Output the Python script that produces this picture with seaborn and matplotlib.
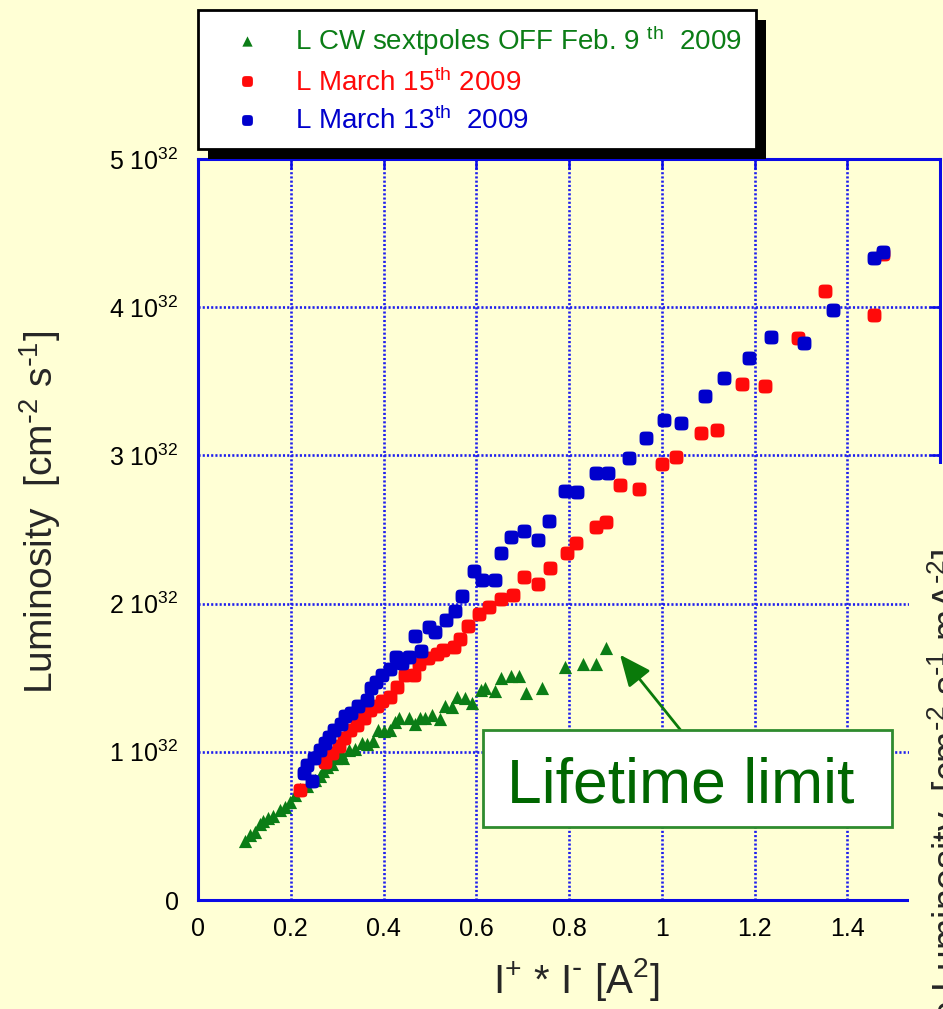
import numpy as np
import matplotlib
matplotlib.use("Agg")
import matplotlib.pyplot as plt
import seaborn as sns
from matplotlib.patches import Rectangle

# Luminosity vs. product of beam currents, luminosity in units of 1e32 cm^-2 s^-1
feb09_current = [0.101, 0.112, 0.123, 0.134, 0.141, 0.152, 0.162, 0.177, 0.188, 0.198,
                 0.209, 0.220, 0.236, 0.252, 0.262, 0.270, 0.278, 0.288, 0.298, 0.308,
                 0.312, 0.326, 0.339, 0.353, 0.365, 0.378, 0.389, 0.400, 0.413, 0.425,
                 0.434, 0.454, 0.467, 0.479, 0.490, 0.504, 0.522, 0.533, 0.547, 0.559,
                 0.576, 0.591, 0.611, 0.619, 0.640, 0.653, 0.675, 0.693, 0.707, 0.741,
                 0.792, 0.831, 0.858, 0.880]
feb09_lumi = [0.40, 0.44, 0.46, 0.51, 0.53, 0.55, 0.57, 0.61, 0.63, 0.66,
              0.71, 0.75, 0.77, 0.81, 0.84, 0.87, 0.90, 0.92, 0.96, 0.99,
              0.96, 1.01, 1.02, 1.06, 1.05, 1.07, 1.15, 1.14, 1.15, 1.20,
              1.23, 1.23, 1.19, 1.23, 1.23, 1.25, 1.22, 1.31, 1.30, 1.37,
              1.36, 1.33, 1.42, 1.43, 1.41, 1.50, 1.51, 1.51, 1.40, 1.43,
              1.57, 1.59, 1.59, 1.70]

mar15_current = [0.219, 0.274, 0.288, 0.303, 0.314, 0.328, 0.342, 0.357, 0.371, 0.385,
                 0.396, 0.413, 0.430, 0.447, 0.465, 0.477, 0.496, 0.515, 0.529, 0.551,
                 0.565, 0.583, 0.605, 0.627, 0.653, 0.680, 0.703, 0.733, 0.759, 0.795,
                 0.816, 0.858, 0.880, 0.911, 0.951, 1.000, 1.031, 1.085, 1.120, 1.174,
                 1.223, 1.294, 1.351, 1.458, 1.477]
mar15_lumi = [0.74, 0.93, 0.99, 1.04, 1.09, 1.15, 1.18, 1.23, 1.28, 1.31,
              1.34, 1.37, 1.44, 1.52, 1.52, 1.59, 1.63, 1.66, 1.69, 1.71,
              1.76, 1.85, 1.93, 1.98, 2.03, 2.06, 2.18, 2.13, 2.24, 2.34,
              2.41, 2.52, 2.55, 2.80, 2.77, 2.94, 2.99, 3.15, 3.17, 3.48,
              3.47, 3.79, 4.11, 3.95, 4.36]

mar13_current = [0.229, 0.236, 0.245, 0.251, 0.262, 0.273, 0.283, 0.293, 0.309, 0.317,
                 0.330, 0.345, 0.364, 0.373, 0.383, 0.396, 0.413, 0.427, 0.440, 0.454,
                 0.467, 0.480, 0.498, 0.512, 0.534, 0.555, 0.570, 0.595, 0.613, 0.640,
                 0.653, 0.675, 0.702, 0.733, 0.756, 0.792, 0.817, 0.859, 0.885, 0.929,
                 0.965, 1.005, 1.041, 1.094, 1.134, 1.188, 1.236, 1.307, 1.370, 1.458,
                 1.477]
mar13_lumi = [0.86, 0.91, 0.80, 0.96, 1.01, 1.06, 1.10, 1.15, 1.19, 1.24,
              1.26, 1.31, 1.35, 1.43, 1.47, 1.52, 1.56, 1.64, 1.60, 1.64,
              1.78, 1.68, 1.84, 1.81, 1.89, 1.95, 2.05, 2.22, 2.16, 2.16,
              2.34, 2.45, 2.49, 2.43, 2.56, 2.76, 2.75, 2.88, 2.88, 2.98,
              3.12, 3.24, 3.22, 3.40, 3.52, 3.66, 3.80, 3.76, 3.98, 4.33,
              4.37]

series_labels = ["L CW sextpoles OFF Feb. 9 $^{th}$  2009",
                 "L March 15$^{th}$ 2009",
                 "L March 13$^{th}$  2009"]

x_ticks = [0, 0.2, 0.4, 0.6, 0.8, 1.0, 1.2, 1.4, 1.6]
x_tick_labels = ["0", "0.2", "0.4", "0.6", "0.8", "1", "1.2", "1.4", ""]
y_ticks = [0, 1, 2, 3, 4, 5]
y_tick_labels = ["0", "1 10$^{32}$", "2 10$^{32}$", "3 10$^{32}$", "4 10$^{32}$", "5 10$^{32}$"]

# lifetime-limit callout (data coordinates)
note_text = "Lifetime limit"
note_box = (0.615, 0.493, 0.882, 0.656)
note_xy = (0.910, 1.655)
note_tail = (1.040, 1.149)

BG = "#FFFFD5"
AXIS_BLUE = "#0A0AE6"
GRID_BLUE = "#1E1EEE"
GREEN = "#0B7D16"
RED = "#FF0A0A"
BLUE = "#0000CC"
DARK_GREEN = "#006600"

sns.set_style("white", {"axes.facecolor": BG, "figure.facecolor": BG})
plt.rcParams["font.family"] = ["Liberation Sans", "DejaVu Sans"]
plt.rcParams["mathtext.default"] = "regular"

W, H = 943, 1009
fig = plt.figure(figsize=(W / 100, H / 100), dpi=100, facecolor=BG)
ax = fig.add_axes([198 / W, 1 - 900 / H, (940 - 198) / W, (900 - 159) / H])
ax.set_facecolor(BG)

# rounded-square marker (superellipse)
t = np.linspace(0, 2 * np.pi, 72, endpoint=False)
ct, st = np.cos(t), np.sin(t)
rsq = np.column_stack([np.sign(ct) * np.abs(ct) ** 0.5, np.sign(st) * np.abs(st) ** 0.5])
rsq = np.vstack([rsq, rsq[:1]])

sns.scatterplot(x=feb09_current, y=feb09_lumi, marker="^", s=90, color=GREEN,
                linewidth=0, ax=ax, label=series_labels[0], zorder=3)
sns.scatterplot(x=mar15_current, y=mar15_lumi, marker=rsq, s=100, color=RED,
                linewidth=0, ax=ax, label=series_labels[1], zorder=3)
sns.scatterplot(x=mar13_current, y=mar13_lumi, marker=rsq, s=100, color=BLUE,
                linewidth=0, ax=ax, label=series_labels[2], zorder=3)
if ax.get_legend() is not None:
    ax.get_legend().remove()

ax.set_xlim(0, 1.6)
ax.set_ylim(0, 5)
ax.set_xticks(x_ticks, labels=x_tick_labels)
ax.set_yticks(y_ticks, labels=y_tick_labels)
ax.tick_params(axis="both", direction="in", length=7, width=1.8, color=AXIS_BLUE,
               top=True, right=True, labelcolor="black")
ax.tick_params(axis="x", labelsize=18, pad=12)
ax.tick_params(axis="y", labelsize=18, pad=14)
ax.grid(True, color=GRID_BLUE, linestyle=(0, (0.8, 0.8)), linewidth=1.9)
ax.set_axisbelow(True)
for sp in ax.spines.values():
    sp.set_visible(True)
    sp.set_color(AXIS_BLUE)
    sp.set_linewidth(2.2)

ax.set_xlabel("I$^{+}$ * I$^{\\text{-}}$ [A$^{2}$]", fontsize=29, va="baseline")
ax.xaxis.set_label_coords((576 - 198) / 742, (900 - 993) / 741)
ax.set_ylabel("Luminosity  [cm$^{\\text{-}2}$ s$^{\\text{-}1}$]", fontsize=28, va="baseline")
ax.yaxis.set_label_coords((53 - 198) / 742, (900 - 512) / 741)

# callout
ax.annotate("", xy=note_xy, xytext=note_tail,
            arrowprops=dict(arrowstyle="-|>,head_length=0.8,head_width=0.35",
                            color="#0A7A0A", lw=2, mutation_scale=24,
                            shrinkA=0, shrinkB=0), zorder=4)
ax.add_patch(Rectangle(note_box[:2], note_box[2], note_box[3], facecolor="white",
                       edgecolor="#2E8B2E", lw=2, zorder=5))
ax.text(note_box[0] + note_box[2] / 2 - 0.015, 0.655, note_text, fontsize=45,
        color=DARK_GREEN, ha="center", va="baseline", zorder=6)

# legend with drop shadow
handles, labels = ax.get_legend_handles_labels()
leg = fig.legend(handles, labels, loc="upper left",
                 bbox_to_anchor=(198 / W, 1 - 10 / H), bbox_transform=fig.transFigure,
                 fontsize=20, frameon=True, fancybox=False, framealpha=1,
                 facecolor="white", edgecolor="black", borderpad=0.5,
                 handlelength=2.5, handletextpad=0.5, labelspacing=0.36,
                 borderaxespad=0, markerscale=0.78, scatteryoffsets=[0.5])
leg.get_frame().set_linewidth(2)
leg.set_zorder(6)
for txt, col in zip(leg.get_texts(), [GREEN, RED, BLUE]):
    txt.set_color(col)
fig.canvas.draw()
bb = leg.get_window_extent().transformed(fig.transFigure.inverted())
fig.add_artist(Rectangle((bb.x0 + 10 / W, bb.y0 - 10 / H), bb.width, bb.height,
                         transform=fig.transFigure, facecolor="black",
                         edgecolor="none", zorder=5.5))

# neighbouring panel overlapping the lower right corner
fig.add_artist(Rectangle((909 / W, 0), 1 - 909 / W, (H - 464) / H,
                         transform=fig.transFigure, facecolor=BG, edgecolor="none",
                         zorder=8))
fig.text(925 / W, 1 - 549 / H,
         "Specific Luminosity  [cm$^{\\text{-}2}$ s$^{\\text{-}1}$ mA$^{\\text{-}2}$]",
         fontsize=27, rotation=90, rotation_mode="anchor", ha="right", va="top",
         zorder=9)

fig.savefig("out.png", dpi=100, facecolor=BG)
